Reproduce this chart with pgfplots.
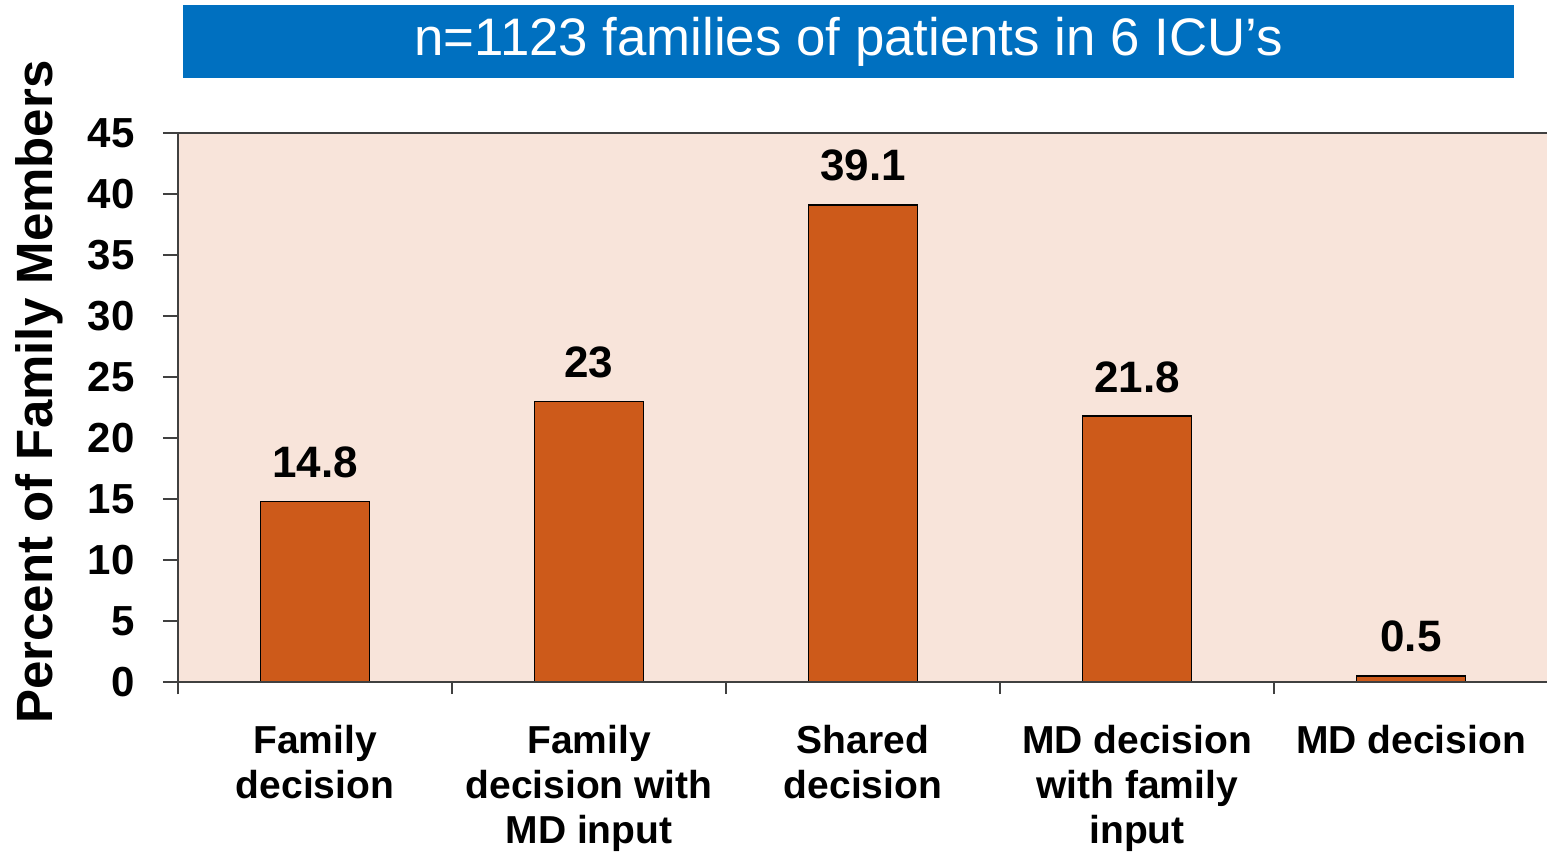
\documentclass[border=0pt]{standalone}
\usepackage{pgfplots}
\pgfplotsset{compat=1.18}
\usepackage{fontspec}
\setmainfont{Liberation Sans}
\definecolor{barc}{HTML}{CD5A1A}
\definecolor{bgc}{HTML}{F8E4DA}
\definecolor{titc}{HTML}{0070C0}
\definecolor{axc}{HTML}{404040}
\begin{document}
\begin{tikzpicture}
\path[use as bounding box] (0,0) rectangle (773.5pt,-426.5pt);
\fill[titc] (91.5pt,-2.5pt) rectangle (757pt,-39pt);
\node[anchor=base, text=white, inner sep=0, font=\fontsize{26.4pt}{30pt}\selectfont] at (424.25pt,-27.75pt) {n=1123 families of patients in 6 ICU’s};
\node[anchor=base, rotate=90, inner sep=0, font=\fontsize{25.5pt}{30pt}\selectfont\bfseries] at (26pt,-196pt) {Percent of Family Members};
\begin{axis}[
  at={(89pt,-341pt)}, anchor=south west,
  scale only axis, width=685pt, height=274.5pt,
  xmin=-0.5, xmax=4.5, ymin=0, ymax=45,
  axis background/.style={fill=bgc},
  axis line style={draw=none},
  xtick pos=lower, ytick pos=left,
  ytick={0,5,...,45},
  tick style={draw=axc, line width=0.75pt},
  tick align=outside,
  major tick length=7.5pt,
  xtick={0,1,2,3,4},
  xticklabels={{Family\\decision},{Family\\decision with\\MD input},{Shared\\decision},{MD decision\\with family\\input},{MD decision}},
  major x tick style={draw=none},
  minor xtick={-0.5,0.5,1.5,2.5,3.5},
  minor tick length=6pt,
  minor x tick style={draw=axc, line width=0.75pt},
  /pgf/number format/assume math mode=true,
  ticklabel style={font=\fontsize{21pt}{22.5pt}\selectfont\bfseries},
  yticklabel style={anchor=east, inner sep=0pt, xshift=-14pt},
  xticklabel style={anchor=north, align=center, inner sep=0pt, yshift=-14pt, font=\fontsize{19.5pt}{22.5pt}\selectfont\bfseries},
  clip=false,
  nodes near coords,
  point meta=explicit symbolic,
  every node near coord/.style={anchor=south, inner sep=0pt, yshift=11.5pt, font=\fontsize{22pt}{24pt}\selectfont\bfseries, text=black},
]
\addplot[ybar, bar width=54.5pt, fill=barc, draw=black, line width=0.6pt] coordinates {
 (0,14.8) [14.8]
 (1,23) [23]
 (2,39.1) [39.1]
 (3,21.8) [21.8]
 (4,0.5) [0.5]
};
\draw[axc, line width=0.75pt] (rel axis cs:0,0) -- (rel axis cs:1,0);
\draw[axc, line width=0.75pt] ([yshift=-6pt]rel axis cs:0,0) -- (rel axis cs:0,1);
\draw[axc, line width=0.75pt] ([xshift=-7.5pt]rel axis cs:0,1) -- (rel axis cs:1,1);
\end{axis}
\end{tikzpicture}
\end{document}
